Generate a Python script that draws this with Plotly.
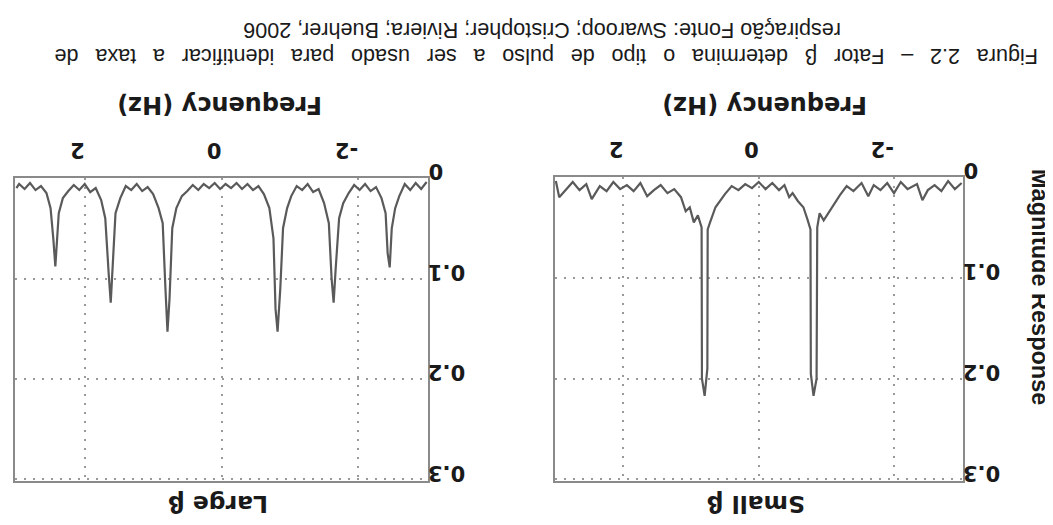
import plotly.graph_objects as go

# ---- data read from the (upside-down) reference ----
freq_large = [-3.0, -2.92, -2.84, -2.76, -2.68, -2.6, -2.54, -2.49, -2.46, -2.43, -2.4, -2.34, -2.26,
              -2.18, -2.1, -2.02, -1.94, -1.86, -1.78, -1.72, -1.67, -1.64, -1.61, -1.57, -1.5, -1.42,
              -1.34, -1.26, -1.18, -1.1, -1.02, -0.96, -0.9, -0.86, -0.82, -0.79, -0.76, -0.7, -0.62,
              -0.54, -0.46, -0.38, -0.3, -0.22, -0.14, -0.06, 0.02, 0.1, 0.18, 0.26, 0.34, 0.42, 0.5,
              0.58, 0.66, 0.72, 0.76, 0.79, 0.82, 0.86, 0.92, 1.0, 1.08, 1.16, 1.24, 1.32, 1.4, 1.48,
              1.55, 1.59, 1.62, 1.65, 1.7, 1.76, 1.84, 1.92, 2.0, 2.08, 2.16, 2.24, 2.32, 2.38, 2.41,
              2.43, 2.46, 2.5, 2.56, 2.64, 2.72, 2.8, 2.88, 2.96, 3.0]
mag_large = [0.004, 0.011, 0.005, 0.012, 0.006, 0.018, 0.03, 0.05, 0.089, 0.075, 0.035, 0.02, 0.009,
             0.013, 0.006, 0.012, 0.007, 0.015, 0.025, 0.04, 0.09, 0.124, 0.1, 0.045, 0.025, 0.011,
             0.014, 0.006, 0.012, 0.008, 0.018, 0.03, 0.05, 0.11, 0.153, 0.13, 0.06, 0.03, 0.016,
             0.008, 0.012, 0.006, 0.011, 0.005, 0.01, 0.006, 0.011, 0.005, 0.01, 0.006, 0.012, 0.007, 0.013,
             0.018, 0.03, 0.05, 0.12, 0.153, 0.11, 0.045, 0.03, 0.016, 0.009, 0.013, 0.006, 0.012, 0.008, 0.02,
             0.035, 0.09, 0.124, 0.095, 0.04, 0.022, 0.01, 0.014, 0.006, 0.012, 0.007, 0.013, 0.02, 0.035, 0.07,
             0.088, 0.06, 0.03, 0.015, 0.008, 0.012, 0.005, 0.011, 0.006, 0.01]

freq_small = [-3.0, -2.9, -2.8, -2.7, -2.6, -2.5, -2.42, -2.34, -2.2, -2.1, -2.0, -1.9, -1.8, -1.7,
              -1.62, -1.52, -1.4, -1.3, -1.2, -1.12, -1.04, -0.96, -0.9, -0.865, -0.855, -0.81, -0.77,
              -0.765, -0.72, -0.66, -0.58, -0.5, -0.45, -0.38, -0.3, -0.2, -0.1, 0.0, 0.1, 0.2, 0.3,
              0.4, 0.5, 0.57, 0.64, 0.72, 0.755, 0.76, 0.8, 0.84, 0.845, 0.9, 0.96, 1.02, 1.08, 1.15,
              1.25, 1.35, 1.45, 1.55, 1.65, 1.75, 1.85, 1.95, 2.05, 2.15, 2.25, 2.35, 2.47, 2.55, 2.65,
              2.75, 2.85, 2.95, 3.0]
mag_small = [0.006, 0.012, 0.004, 0.014, 0.008, 0.013, 0.023, 0.007, 0.012, 0.005, 0.016, 0.006, 0.013,
             0.008, 0.019, 0.006, 0.014, 0.009, 0.018, 0.026, 0.034, 0.043, 0.036, 0.05, 0.2, 0.217,
             0.195, 0.052, 0.042, 0.03, 0.024, 0.016, 0.02, 0.008, 0.013, 0.006, 0.012, 0.005, 0.011,
             0.007, 0.013, 0.009, 0.017, 0.024, 0.03, 0.045, 0.052, 0.19, 0.217, 0.2, 0.05, 0.038, 0.045,
             0.03, 0.034, 0.02, 0.012, 0.016, 0.008, 0.013, 0.019, 0.006, 0.014, 0.008, 0.012, 0.005,
             0.014, 0.009, 0.022, 0.007, 0.013, 0.005, 0.012, 0.02, 0.004]

freq_ticks = [-2, 0, 2]
freq_tick_labels = ["-2\u00a0", "0", "2"]
mag_ticks = [0, 0.1, 0.2, 0.3]
mag_tick_labels = ["\u00a0\u00a0\u00a00", "0.1", "0.2", "0.3"]
panel_titles = ["Large β", "Small β"]
x_title = "Frequency (Hz)"
y_title = "Magnitude Response"
caption_lines = [
    "Figura 2.2 – Fator β determina o tipo de pulso a ser usado para identificar a taxa de",
    "respiração Fonte: Swaroop; Cristopher; Riviera; Buehrer, 2006",
]

W, H = 1053, 525
FONT = "Liberation Sans"
WIDE = "DejaVu Sans"
INK = "#1a1a1a"

fig = go.Figure()
fig.add_trace(go.Scatter(x=freq_large, y=mag_large, xaxis="x", yaxis="y", mode="lines",
                         line=dict(color="#5a5a5a", width=2.2), showlegend=False))
fig.add_trace(go.Scatter(x=freq_small, y=mag_small, xaxis="x2", yaxis="y2", mode="lines",
                         line=dict(color="#5a5a5a", width=2.2), showlegend=False))

common = dict(showline=True, mirror=True, linecolor="#8a8a8a", linewidth=2,
              showgrid=True, gridcolor="#9a9a9a", griddash="2px,7px", gridwidth=2,
              zeroline=False, ticks="", tickangle=180, automargin=False,
              tickfont=dict(family=WIDE, size=21, color=INK, weight=700))

xa = dict(common, range=[3.02, -3.02], side="top", tickvals=freq_ticks, ticktext=freq_tick_labels,
          ticklabelstandoff=4)
ya = dict(common, range=[0.3015, 0], side="right", tickvals=mag_ticks, ticktext=mag_tick_labels,
          ticklabelstandoff=31)

fig.update_layout(
    width=W, height=H, margin=dict(l=0, r=0, t=0, b=0, autoexpand=False),
    paper_bgcolor="white", plot_bgcolor="white",
    xaxis=dict(xa, domain=[7 / W, 420 / W], anchor="y"),
    yaxis=dict(ya, domain=[1 - 473 / H, 1 - 170 / H], anchor="x"),
    xaxis2=dict(xa, domain=[546.5 / W, 955 / W], anchor="y2"),
    yaxis2=dict(ya, domain=[1 - 473 / H, 1 - 169 / H], anchor="x2"),
)

ann = []
# panel titles (bottom, upside down)
for cx, t in zip([210, 748], panel_titles):
    ann.append(dict(text=t, x=cx / W, y=1 - 496 / H, xref="paper", yref="paper",
                    xanchor="center", yanchor="middle", showarrow=False, textangle=180,
                    font=dict(family=WIDE, size=23.5, color=INK, weight=700)))
# x axis titles (top, upside down)
for cx in [212, 757]:
    ann.append(dict(text=x_title, x=cx / W, y=1 - 97 / H, xref="paper", yref="paper",
                    xanchor="center", yanchor="middle", showarrow=False, textangle=180,
                    font=dict(family=WIDE, size=24, color=INK, weight=700)))
# y axis title (only the right panel)
ann.append(dict(text=y_title, x=1032 / W, y=1 - 279 / H, xref="paper", yref="paper",
                xanchor="center", yanchor="middle", showarrow=False, textangle=90,
                font=dict(family=FONT, size=23.5, color=INK, weight=700)))
# caption (two upside-down lines; first line is justified to the full width)
line1 = "\u2002\u00a0".join(caption_lines[0].split(" "))
for cy, cx, line in zip([48, 23], [539, 534], [line1, caption_lines[1]]):
    ann.append(dict(text=line, x=cx / W, y=1 - cy / H, xref="paper", yref="paper",
                    xanchor="center", yanchor="middle", showarrow=False, textangle=180,
                    font=dict(family=FONT, size=21.6, color=INK)))
fig.update_layout(annotations=ann)

fig.write_html("out.html")
